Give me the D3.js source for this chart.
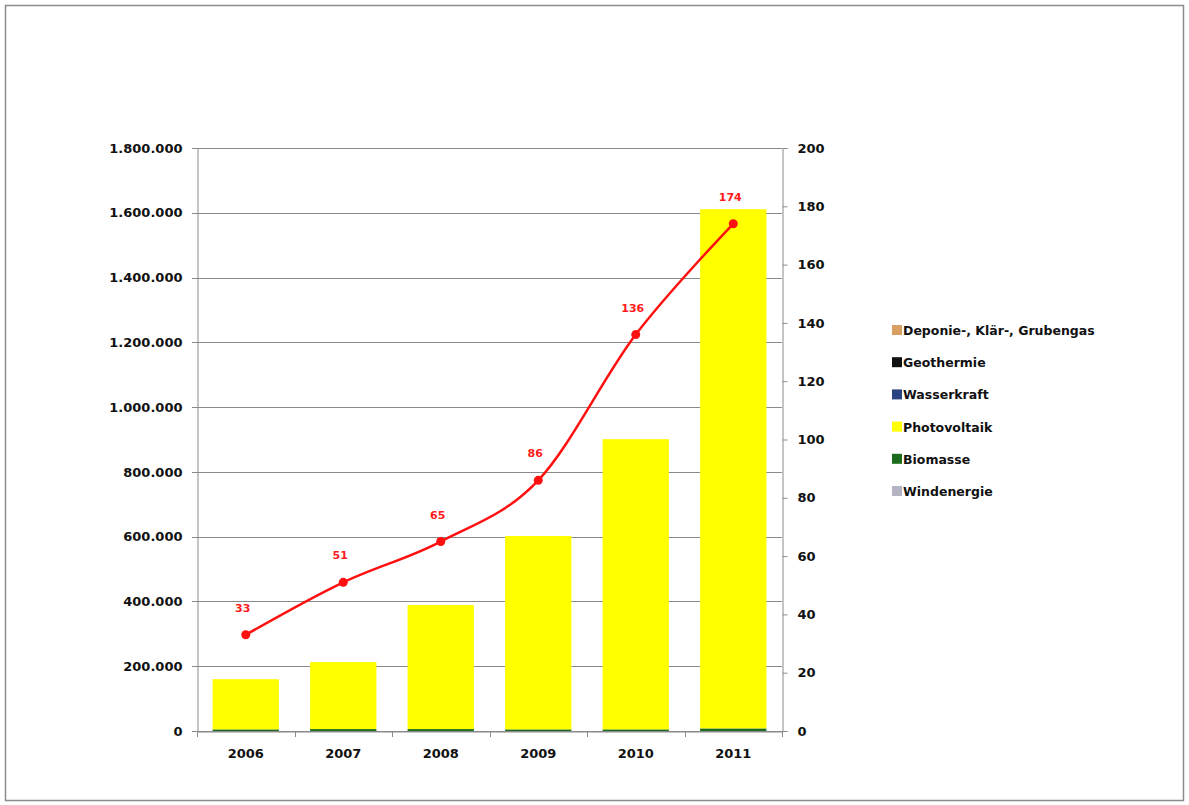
<!DOCTYPE html>
<html>
<head>
<meta charset="utf-8">
<script src="https://cdn.jsdelivr.net/npm/d3@7"></script>
<style>
  body { margin: 0; background: #fff; }
  svg text { font-family: "DejaVu Sans", sans-serif; font-weight: bold; }
</style>
</head>
<body>
<svg id="chart"></svg>
<script>
// data
var years = ["2006", "2007", "2008", "2009", "2010", "2011"]
var windenergie = [0, 0, 0, 0, 0, 0]
var biomasse = [5000, 6000, 6000, 5000, 5000, 8000]
var photovoltaik = [155000, 207000, 383000, 597000, 896000, 1603000]
var wasserkraft = [0, 0, 0, 0, 0, 0]
var geothermie = [0, 0, 0, 0, 0, 0]
var deponie = [0, 0, 0, 0, 0, 0]
var anlagen = [33, 51, 65, 86, 136, 174]   // right axis, line
var leftTicks = [0, 200000, 400000, 600000, 800000, 1000000, 1200000, 1400000, 1600000, 1800000]
var rightTicks = [0, 20, 40, 60, 80, 100, 120, 140, 160, 180, 200]

// series bottom -> top, legend shows them top -> bottom
var seriesNames = ["Windenergie", "Biomasse", "Photovoltaik", "Wasserkraft", "Geothermie", "Deponie-, Klär-, Grubengas"]
var seriesValues = [windenergie, biomasse, photovoltaik, wasserkraft, geothermie, deponie]
var seriesColors = ["#b4b4c4", "#1d6b1d", "#ffff00", "#2a4482", "#111111", "#d9a064"]

var screen = {width: 1189, height: 805}
var plot = {left: 197, right: 782, top: 148, bottom: 731}

var svg = d3.select("#chart")
    .attr("width", screen.width)
    .attr("height", screen.height)

// outer frame
svg.append("rect")
    .attr("x", 5.5).attr("y", 5.5)
    .attr("width", 1178).attr("height", 795)
    .attr("fill", "white")
    .attr("stroke", "#8c8c8c").attr("stroke-width", 1.5)

var xScale = d3.scaleBand()
    .domain(years)
    .range([plot.left, plot.right])
    .paddingInner(0.32)
    .paddingOuter(0.16)

var yScale = d3.scaleLinear()
    .domain([0, 1800000])
    .range([plot.bottom, plot.top])

var y2Scale = d3.scaleLinear()
    .domain([0, 200])
    .range([plot.bottom, plot.top])

// gridlines
svg.append("g")
    .selectAll("line")
    .data(leftTicks)
    .enter()
    .append("line")
    .attr("x1", plot.left - 5).attr("x2", plot.right)
    .attr("y1", function(d){ return Math.round(yScale(d)) + 0.5 })
    .attr("y2", function(d){ return Math.round(yScale(d)) + 0.5 })
    .attr("stroke", "#8a8a8a")

// stacked bars
var table = years.map(function(y, i){
    var row = {year: y}
    seriesNames.forEach(function(n, k){ row[n] = seriesValues[k][i] })
    return row
})
var stacked = d3.stack().keys(seriesNames)(table)

svg.append("g")
    .selectAll("g")
    .data(stacked)
    .enter()
    .append("g")
    .attr("fill", function(s, k){ return seriesColors[k] })
    .selectAll("rect")
    .data(function(s){ return s })
    .enter()
    .append("rect")
    .attr("x", function(d){ return xScale(d.data.year) })
    .attr("width", xScale.bandwidth())
    .attr("y", function(d){ return yScale(d[1]) })
    .attr("height", function(d){ return Math.max(0, yScale(d[0]) - yScale(d[1])) })

// axes
var leftAxis = d3.axisLeft(yScale)
    .tickValues(leftTicks)
    .tickSize(0)
    .tickPadding(15)
    .tickFormat(function(d){ return d3.format(",")(d).replace(/,/g, ".") })

var rightAxis = d3.axisRight(y2Scale)
    .tickValues(rightTicks)
    .tickSize(5)
    .tickPadding(10)

var bottomAxis = d3.axisBottom(xScale)
    .tickSize(0)
    .tickPadding(17)

var gl = svg.append("g").attr("transform", "translate(" + (plot.left + 0.5) + ",0)").call(leftAxis)
var gr = svg.append("g").attr("transform", "translate(" + (plot.right + 0.5) + ",0)").call(rightAxis)
var gb = svg.append("g").attr("transform", "translate(0," + (plot.bottom + 0.5) + ")").call(bottomAxis)

;[gl, gr, gb].forEach(function(g){
    g.select(".domain").attr("stroke", "#8a8a8a")
    g.selectAll(".tick line").attr("stroke", "#8a8a8a")
    g.selectAll("text")
        .attr("fill", "#111")
        .style("font-size", "13px")
        .style("font-family", "'DejaVu Sans', sans-serif")
        .style("font-weight", "bold")
})

// category tick marks between bars
svg.append("g")
    .selectAll("line")
    .data(d3.range(years.length + 1))
    .enter()
    .append("line")
    .attr("x1", function(i){ return Math.round(plot.left + i * (plot.right - plot.left) / years.length) + 0.5 })
    .attr("x2", function(i){ return Math.round(plot.left + i * (plot.right - plot.left) / years.length) + 0.5 })
    .attr("y1", plot.bottom).attr("y2", plot.bottom + 6)
    .attr("stroke", "#8a8a8a")

// line series on the right axis
var cx = function(d, i){ return xScale(years[i]) + xScale.bandwidth() / 2 }
var lineGenerator = d3.line()
    .x(cx)
    .y(function(d){ return y2Scale(d) })
    .curve(d3.curveCardinal.tension(0))

svg.append("path")
    .datum(anlagen)
    .attr("d", lineGenerator)
    .attr("fill", "none")
    .attr("stroke", "#ff1010")
    .attr("stroke-width", 2.5)

svg.append("g")
    .selectAll("circle")
    .data(anlagen)
    .enter()
    .append("circle")
    .attr("cx", cx)
    .attr("cy", function(d){ return y2Scale(d) })
    .attr("r", 4.5)
    .attr("fill", "#ff1010")

svg.append("g")
    .selectAll("text")
    .data(anlagen)
    .enter()
    .append("text")
    .attr("x", function(d, i){ return cx(d, i) - 3 })
    .attr("y", function(d){ return y2Scale(d) - 23 })
    .attr("text-anchor", "middle")
    .attr("fill", "#ff1a1a")
    .style("font-size", "11px")
    .text(function(d){ return d })

// legend
var legendNames = seriesNames.slice().reverse()
var legendColors = seriesColors.slice().reverse()
var gs = svg.append("g")
    .attr("transform", "translate(892,330)")
    .selectAll("g")
    .data(legendNames)
    .enter()
    .append("g")
    .attr("transform", function(d, i){ return "translate(0," + (i * 32.2) + ")" })

gs.append("rect")
    .attr("x", 0).attr("y", -5)
    .attr("width", 10).attr("height", 10)
    .attr("fill", function(d, i){ return legendColors[i] })

gs.append("text")
    .attr("x", 11)
    .attr("y", 5)
    .attr("fill", "#111")
    .style("font-size", "12.5px")
    .text(function(d){ return d })
</script>
</body>
</html>
